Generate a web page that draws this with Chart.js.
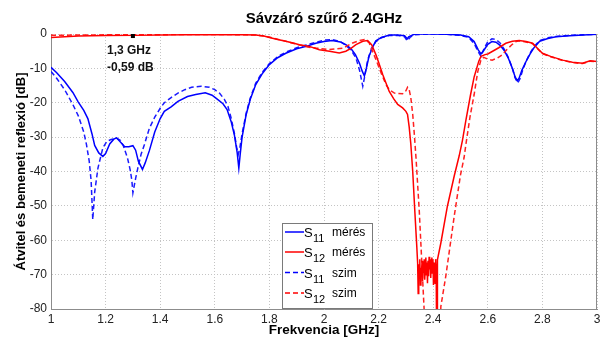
<!DOCTYPE html>
<html>
<head>
<meta charset="utf-8">
<script src="https://cdn.jsdelivr.net/npm/chart.js@4/dist/chart.umd.min.js"></script>
<style>
html,body{margin:0;padding:0;background:#fff;}
#wrap{width:600px;height:338px;}
</style>
</head>
<body>
<div id="wrap"><canvas id="c" width="600" height="338"></canvas></div>
<script>
// ---------- DATA ----------
const titleText = "Sávzáró szűrő 2.4GHz";
const xTitle = "Frekvencia [GHz]";
const yTitle = "Átvitel és bemeneti reflexió [dB]";
const xTicks = [1, 1.2, 1.4, 1.6, 1.8, 2, 2.2, 2.4, 2.6, 2.8, 3];
const yTicks = [0, -10, -20, -30, -40, -50, -60, -70, -80];

// S11 measured
const fS11m = [1.00,1.02,1.05,1.08,1.10,1.12,1.135,1.15,1.16,1.175,1.19,1.20,1.215,1.23,1.24,1.255,1.27,1.285,1.30,1.31,1.32,1.335,1.345,1.36,1.38,1.40,1.415,1.44,1.465,1.50,1.53,1.565,1.59,1.61,1.63,1.645,1.66,1.672,1.682,1.688,1.693,1.70,1.715,1.73,1.75,1.775,1.80,1.83,1.86,1.90,1.935,1.97,2.00,2.03,2.06,2.08,2.10,2.115,2.13,2.14,2.148,2.155,2.165,2.18,2.19,2.21,2.24,2.27,2.295,2.305,2.31,2.33,2.36,2.40,2.45,2.50,2.53,2.55,2.565,2.575,2.585,2.60,2.615,2.63,2.645,2.66,2.675,2.69,2.70,2.708,2.715,2.725,2.74,2.755,2.77,2.79,2.82,2.85,2.90,2.95,3.00];
const vS11m = [-9.7,-11.2,-13.8,-17,-19.8,-22.2,-24.6,-29,-32.4,-34.6,-35.6,-34.8,-32,-30.6,-30.2,-31.5,-32.8,-32.8,-32.5,-33.8,-37,-39.4,-37.5,-34,-28.5,-24.6,-22.5,-21.2,-19.6,-18.2,-17.6,-17.1,-17.8,-19,-20.3,-22,-25.5,-29.5,-34.5,-39,-35,-30,-23.4,-19,-14.7,-11.4,-8.9,-6.9,-5.6,-4.3,-3.6,-2.7,-2.2,-1.9,-2.3,-3.1,-4.4,-6.0,-8.5,-10.8,-12.2,-10,-6.5,-3.5,-2.0,-1.0,-0.3,-0.3,-0.5,-1.4,-0.8,-0.1,0,0,-0.1,-0.3,-0.8,-2.2,-4.6,-5.8,-4.8,-3.0,-2.2,-2.4,-3.3,-4.8,-7,-10,-12.5,-13.6,-12.8,-10.5,-8,-5.8,-3.9,-2.1,-1.3,-0.8,-0.5,-0.3,-0.1];

// S11 simulated
const fS11s = [1.00,1.02,1.05,1.08,1.10,1.12,1.13,1.14,1.147,1.153,1.16,1.172,1.19,1.205,1.22,1.24,1.255,1.265,1.28,1.29,1.296,1.30,1.31,1.318,1.33,1.342,1.36,1.38,1.40,1.415,1.44,1.465,1.49,1.515,1.55,1.58,1.60,1.617,1.635,1.648,1.66,1.672,1.68,1.686,1.692,1.70,1.715,1.73,1.75,1.775,1.80,1.83,1.86,1.90,1.935,1.97,2.00,2.03,2.06,2.08,2.10,2.117,2.13,2.142,2.15,2.16,2.175,2.19,2.21,2.24,2.27,2.295,2.305,2.315,2.33,2.36,2.40,2.45,2.50,2.53,2.55,2.565,2.575,2.585,2.60,2.615,2.63,2.645,2.66,2.675,2.69,2.70,2.71,2.718,2.728,2.74,2.755,2.77,2.79,2.82,2.85,2.90,2.95,3.00];
const vS11s = [-10.9,-12.8,-16.2,-20.5,-23.8,-28.5,-32.2,-37,-42.7,-54,-46,-39,-33.1,-31.2,-30.7,-30.3,-31,-32.5,-36,-39.5,-42.5,-46.2,-42,-39,-35,-32.2,-27.5,-24.2,-21.6,-20,-18.5,-17.2,-16.2,-15.5,-15.2,-15.5,-16.2,-17.2,-19,-21,-24.5,-29,-33,-35,-33,-29,-23,-18.6,-14.3,-11,-8.6,-6.6,-5.3,-4,-3.2,-2.4,-1.8,-1.6,-2.2,-3.3,-4.8,-7,-10.5,-15.2,-12,-7.5,-4,-2.2,-1.1,-0.4,-0.4,-0.8,-2.0,-1.0,-0.2,-0.1,0,-0.1,-0.4,-1.0,-2.8,-5.2,-6.5,-4.5,-2.2,-1.4,-1.6,-2.6,-4.4,-6.8,-10,-12.8,-14.2,-13,-10.5,-8,-5.5,-3.6,-1.9,-1.1,-0.7,-0.4,-0.2,-0.1];

// S12 measured
const fS12m = [1.00,1.05,1.10,1.15,1.20,1.30,1.40,1.50,1.60,1.70,1.75,1.78,1.80,1.83,1.86,1.89,1.91,1.946,1.983,2.02,2.056,2.08,2.10,2.117,2.142,2.16,2.175,2.19,2.20,2.215,2.239,2.255,2.27,2.288,2.30,2.306,2.312,2.318,2.325,2.333,2.34,
  2.343,2.345,2.347,2.349,2.351,2.353,2.355,2.357,2.359,2.361,2.363,2.365,2.367,2.369,2.371,2.373,2.375,2.377,2.379,2.381,2.383,2.385,2.387,2.389,2.391,2.393,2.395,2.397,2.399,2.401,2.403,2.405,2.407,2.409,2.411,2.412,2.413,2.414,2.415,
  2.416,2.428,2.452,2.477,2.495,2.507,2.52,2.537,2.55,2.567,2.575,2.59,2.60,2.616,2.64,2.666,2.69,2.715,2.74,2.764,2.78,2.80,2.83,2.874,2.91,2.947,2.975,3.00];
const vS12m = [-1.0,-0.8,-0.6,-0.5,-0.45,-0.4,-0.3,-0.25,-0.2,-0.2,-0.3,-0.6,-1.0,-1.6,-2.1,-2.7,-3.1,-3.6,-4.6,-5.0,-5.5,-5.0,-4.1,-3.1,-2.1,-1.9,-3.2,-6,-8.2,-11.8,-16.7,-18.8,-20.5,-21.5,-22.5,-23.4,-27,-32,-40,-52,-62,
  -66.7,-75.5,-67,-71,-65.5,-73,-68,-70.5,-66,-72,-68.5,-69.5,-65.5,-71.5,-67,-65,-70,-66.5,-72.5,-66,-70.5,-64.8,-68.5,-65.5,-71,-66.5,-65,-69.5,-65.5,-73,-66.5,-68.5,-72.5,-65.5,-69,-67,-88,-88,-66,
  -65.7,-60.8,-50.1,-41.3,-35.5,-31,-25,-17.6,-12.5,-7.9,-6.5,-6.0,-5.8,-5.1,-4.0,-2.7,-2.1,-1.9,-2.2,-2.7,-4,-5.6,-6.5,-7.6,-8.2,-8.5,-7.8,-8.0];

// S12 simulated
const fS12s = [1.00,1.10,1.20,1.30,1.40,1.50,1.60,1.70,1.75,1.78,1.80,1.83,1.86,1.90,1.94,1.97,2.02,2.07,2.105,2.130,2.148,2.165,2.19,2.21,2.227,2.24,2.258,2.288,2.30,2.306,2.312,2.318,2.325,2.331,2.337,2.349,2.358,2.367,2.372,2.425,2.428,2.447,2.477,2.50,2.513,2.52,2.535,2.55,2.563,2.575,2.585,2.60,2.616,2.635,2.652,2.67,2.69,2.70,2.715,2.74,2.764,2.78,2.80,2.83,2.874,2.91,2.947,2.975,3.00];
const vS12s = [-0.4,-0.3,-0.25,-0.2,-0.2,-0.15,-0.15,-0.2,-0.3,-0.6,-0.9,-1.5,-2.1,-3.0,-3.8,-4.1,-4.5,-4.1,-2.6,-1.9,-1.6,-2.5,-7.4,-11.5,-14.7,-16.3,-17.2,-17.4,-16.5,-15.5,-16.2,-18.5,-23.4,-29.3,-36,-51.5,-66,-80.5,-88,-88,-79.3,-70,-53,-41,-36,-32,-24,-17.6,-11,-7.5,-6.8,-7.3,-7.6,-7,-6.1,-4.5,-3,-2.3,-2.0,-2.3,-2.8,-4.1,-5.7,-6.6,-7.7,-8.3,-8.6,-7.9,-8.1];

// annotation
const markerX = 1.3, markerY = -0.59;
const markerLines = ["1,3 GHz", "-0,59 dB"];

// legend
const legendItems = [
  {sub: "11", word: "mérés", color: "#0000ff", dash: []},
  {sub: "12", word: "mérés", color: "#ff0000", dash: []},
  {sub: "11", word: "szim", color: "#0000ff", dash: [5, 3]},
  {sub: "12", word: "szim", color: "#ff0000", dash: [5, 3]}
];

function pts(f, v) { return f.map((x, i) => ({x: x, y: v[i]})); }

const FONT = "'Liberation Sans', Arial, sans-serif";

const overlay = {
  id: 'overlay',
  afterDraw(chart) {
    const ctx = chart.ctx, a = chart.chartArea;
    const xs = chart.scales.x, ys = chart.scales.y;
    ctx.save();
    // frame right side
    ctx.strokeStyle = '#8c8c8c';
    ctx.lineWidth = 1;
    ctx.beginPath();
    ctx.moveTo(Math.round(a.right) - 0.5, a.top);
    ctx.lineTo(Math.round(a.right) - 0.5, a.bottom);
    ctx.stroke();

    // title
    ctx.fillStyle = '#000';
    ctx.font = 'bold 15px ' + FONT;
    ctx.textAlign = 'center';
    ctx.textBaseline = 'middle';
    ctx.fillText(titleText, (a.left + a.right) / 2, 19);
    // x title
    ctx.font = 'bold 13.5px ' + FONT;
    ctx.fillText(xTitle, (a.left + a.right) / 2, 330);
    // y title
    ctx.save();
    ctx.font = 'bold 13px ' + FONT;
    ctx.translate(21, (a.top + a.bottom) / 2);
    ctx.rotate(-Math.PI / 2);
    ctx.fillText(yTitle, 0, 0);
    ctx.restore();

    // marker
    const mx = xs.getPixelForValue(markerX), my = ys.getPixelForValue(markerY);
    ctx.fillStyle = '#000';
    ctx.fillRect(mx - 2, my - 2, 4, 4);
    ctx.font = 'bold 12px ' + FONT;
    ctx.textAlign = 'left';
    ctx.fillStyle = '#111';
    ctx.fillText(markerLines[0], 107, 51);
    ctx.fillText(markerLines[1], 107, 68);

    // legend
    const bx = 282, by = 223, bw = 90, bh = 85;
    ctx.fillStyle = '#fff';
    ctx.fillRect(bx, by, bw, bh);
    ctx.strokeStyle = '#7a7a7a';
    ctx.lineWidth = 1;
    ctx.strokeRect(bx + 0.5, by + 0.5, bw, bh);
    const rowY = [232, 252, 272.5, 293];
    legendItems.forEach((it, i) => {
      const y = rowY[i];
      ctx.strokeStyle = it.color;
      ctx.lineWidth = 1.5;
      ctx.setLineDash(it.dash);
      ctx.beginPath();
      ctx.moveTo(285, y);
      ctx.lineTo(304, y);
      ctx.stroke();
      ctx.setLineDash([]);
      ctx.fillStyle = '#000';
      ctx.textBaseline = 'alphabetic';
      ctx.textAlign = 'left';
      ctx.font = '13px ' + FONT;
      ctx.fillText('S', 304, y + 5);
      ctx.font = '11px ' + FONT;
      ctx.fillText(it.sub, 313, y + 10);
      ctx.font = '12px ' + FONT;
      ctx.fillText(it.word, 332, y + 4);
    });
    ctx.restore();
  }
};

const commonLine = {pointRadius: 0, borderWidth: 1.5, tension: 0, fill: false};

new Chart(document.getElementById('c'), {
  type: 'line',
  data: {
    datasets: [
      Object.assign({label: 'S12 mérés', data: pts(fS12m, vS12m), borderColor: '#ff0000'}, commonLine),
      Object.assign({label: 'S12 szim', data: pts(fS12s, vS12s), borderColor: '#ff2020', borderDash: [5, 3]}, commonLine),
      Object.assign({label: 'S11 mérés', data: pts(fS11m, vS11m), borderColor: '#0000ff'}, commonLine),
      Object.assign({label: 'S11 szim', data: pts(fS11s, vS11s), borderColor: '#1a1aff', borderDash: [5, 3]}, commonLine)
    ]
  },
  options: {
    responsive: false,
    animation: false,
    devicePixelRatio: 1,
    layout: {padding: {top: 34, right: 3, left: 0, bottom: 0}},
    plugins: {legend: {display: false}, title: {display: false}, tooltip: {enabled: false}},
    scales: {
      x: {
        type: 'linear', min: 1, max: 3,
        afterFit(s) { s.height = 29; s.paddingRight = 0; s.paddingLeft = 0; },
        afterBuildTicks(s) { s.ticks = xTicks.map(v => ({value: v})); },
        ticks: {color: '#222', font: {family: FONT, size: 12}, padding: 3, callback: v => String(v)},
        grid: {color: '#c4c4c4', lineWidth: 1, drawTicks: false},
        border: {display: true, color: '#8c8c8c', width: 1, dash: [1, 2]}
      },
      y: {
        type: 'linear', min: -80, max: 0,
        afterFit(s) { s.width = 51; s.paddingTop = 0; s.paddingBottom = 0; },
        afterBuildTicks(s) { s.ticks = yTicks.map(v => ({value: v})); },
        ticks: {color: '#222', font: {family: FONT, size: 12}, padding: 4, callback: v => String(v)},
        grid: {color: '#c4c4c4', lineWidth: 1, drawTicks: false},
        border: {display: true, color: '#8c8c8c', width: 1, dash: [1, 2]}
      }
    }
  },
  plugins: [overlay]
});
</script>
</body>
</html>
